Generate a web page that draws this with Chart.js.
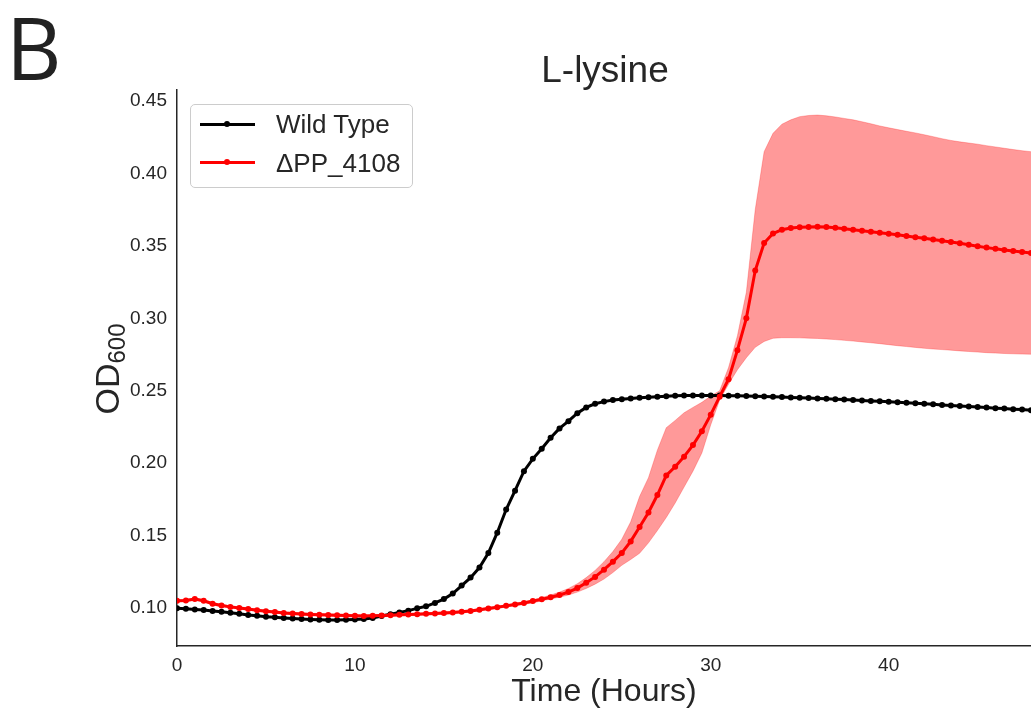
<!DOCTYPE html>
<html>
<head>
<meta charset="utf-8">
<script src="https://cdn.jsdelivr.net/npm/chart.js@4.4.1/dist/chart.umd.min.js"></script>
<style>
  body { margin: 0; background: #fff; }
  #wrap { position: relative; width: 1031px; height: 708px; overflow: hidden; font-family: "Liberation Sans", Arial, sans-serif; color: #262626; }
  #chart { position: absolute; left: 0; top: 0; }
  .abs { position: absolute; white-space: nowrap; line-height: 1; }
  #panel { left: 6px; top: 4px; font-family: "Open Sans", sans-serif; font-size: 86px; color: #222; }
  #title { left: 405px; top: 51px; width: 400px; text-align: center; font-size: 37px; }
  #ylab { left: 7px; top: 349px; width: 200px; height: 40px; line-height: 40px; text-align: center; font-size: 34px; transform: rotate(-90deg); }
  #ylab span { font-size: 24px; position: relative; top: 6px; }
  #legendBox { left: 190px; top: 104px; width: 221px; height: 82px; border: 1px solid #ccc; border-radius: 5px; background: rgba(255,255,255,0.85); }
  .lgLine { position: absolute; left: 200px; width: 55px; height: 2.5px; }
  .lgDot { position: absolute; left: 224px; width: 6px; height: 6px; border-radius: 50%; }
  .lgText { font-size: 26px; left: 276px; }
</style>
</head>
<body>
<div id="wrap">
  <canvas id="chart" width="1031" height="708"></canvas>
  <div id="panel" class="abs">B</div>
  <div id="title" class="abs">L-lysine</div>
  <div id="ylab" class="abs">OD<span>600</span></div>
  <div id="legendBox" class="abs"></div>
  <div class="lgLine" style="top:123px;background:#000"></div>
  <div class="lgDot" style="top:121px;background:#000"></div>
  <div class="lgText abs" style="top:111px">Wild Type</div>
  <div class="lgLine" style="top:161px;background:#f00"></div>
  <div class="lgDot" style="top:159px;background:#f00"></div>
  <div class="lgText abs" style="top:150px">ΔPP_4108</div>
</div>
<script>
// time points (hours)
const hours = [
  0, 0.5, 1, 1.5, 2, 2.5, 3, 3.5, 4, 4.5,
  5, 5.5, 6, 6.5, 7, 7.5, 8, 8.5, 9, 9.5,
  10, 10.5, 11, 11.5, 12, 12.5, 13, 13.5, 14, 14.5,
  15, 15.5, 16, 16.5, 17, 17.5, 18, 18.5, 19, 19.5,
  20, 20.5, 21, 21.5, 22, 22.5, 23, 23.5, 24, 24.5,
  25, 25.5, 26, 26.5, 27, 27.5, 28, 28.5, 29, 29.5,
  30, 30.5, 31, 31.5, 32, 32.5, 33, 33.5, 34, 34.5,
  35, 35.5, 36, 36.5, 37, 37.5, 38, 38.5, 39, 39.5,
  40, 40.5, 41, 41.5, 42, 42.5, 43, 43.5, 44, 44.5,
  45, 45.5, 46, 46.5, 47, 47.5, 48
];

// OD600, wild type
const wildType = [
  0.0999, 0.0995, 0.0990, 0.0986, 0.0980, 0.0975, 0.0967, 0.0960, 0.0952, 0.0946,
  0.0940, 0.0936, 0.0932, 0.0928, 0.0924, 0.0921, 0.0919, 0.0918, 0.0918, 0.0919,
  0.0921, 0.0924, 0.0932, 0.0945, 0.0958, 0.0970, 0.0982, 0.0998, 0.1012, 0.1035,
  0.1062, 0.1100, 0.1155, 0.1210, 0.1280, 0.1380, 0.1520, 0.1680, 0.1810, 0.1945,
  0.2030, 0.2100, 0.2175, 0.2240, 0.2290, 0.2345, 0.2385, 0.2410, 0.2425, 0.2436,
  0.2442, 0.2447, 0.2451, 0.2455, 0.2459, 0.2462, 0.2465, 0.2467, 0.2468, 0.2468,
  0.2468, 0.2467, 0.2466, 0.2465, 0.2463, 0.2462, 0.2460, 0.2458, 0.2456, 0.2454,
  0.2452, 0.2450, 0.2447, 0.2445, 0.2442, 0.2440, 0.2436, 0.2433, 0.2430, 0.2427,
  0.2424, 0.2420, 0.2417, 0.2413, 0.2410, 0.2406, 0.2402, 0.2398, 0.2395, 0.2392,
  0.2388, 0.2384, 0.2380, 0.2377, 0.2373, 0.2370, 0.2366
];

// OD600, deletion mutant (mean)
const ppMean = [
  0.1050, 0.1052, 0.1062, 0.1050, 0.1030, 0.1018, 0.1008, 0.1000, 0.0993, 0.0985,
  0.0978, 0.0972, 0.0966, 0.0962, 0.0959, 0.0956, 0.0954, 0.0952, 0.0950, 0.0948,
  0.0946, 0.0945, 0.0946, 0.0948, 0.0950, 0.0953, 0.0955, 0.0957, 0.0960, 0.0962,
  0.0965, 0.0969, 0.0974, 0.0980, 0.0988, 0.0997, 0.1005, 0.1015, 0.1025, 0.1035,
  0.1048, 0.1060, 0.1075, 0.1090, 0.1110, 0.1138, 0.1175, 0.1215, 0.1265, 0.1320,
  0.1380, 0.1460, 0.1560, 0.1660, 0.1780, 0.1915, 0.1975, 0.2045, 0.2125, 0.2220,
  0.2335, 0.2459, 0.2580, 0.2780, 0.3000, 0.3330, 0.3520, 0.3585, 0.3612, 0.3623,
  0.3628, 0.3631, 0.3632, 0.3630, 0.3625, 0.3618, 0.3612, 0.3605, 0.3597, 0.3590,
  0.3584, 0.3577, 0.3568, 0.3560, 0.3552, 0.3544, 0.3535, 0.3527, 0.3518, 0.3508,
  0.3498, 0.3488, 0.3480, 0.3472, 0.3464, 0.3457, 0.3450
];

// shaded spread of the mutant
const ppUpper = [
  0.1058, 0.1060, 0.1070, 0.1058, 0.1038, 0.1026, 0.1016, 0.1008, 0.1001, 0.0993,
  0.0986, 0.0980, 0.0974, 0.0970, 0.0967, 0.0964, 0.0962, 0.0960, 0.0958, 0.0956,
  0.0954, 0.0953, 0.0954, 0.0956, 0.0958, 0.0961, 0.0963, 0.0965, 0.0968, 0.0970,
  0.0973, 0.0977, 0.0982, 0.0988, 0.0996, 0.1005, 0.1013, 0.1023, 0.1034, 0.1044,
  0.1057, 0.1072, 0.1090, 0.1110, 0.1135, 0.1168, 0.1210, 0.1260, 0.1320, 0.1390,
  0.1475, 0.1595, 0.1770, 0.1900, 0.2090, 0.2245, 0.2295, 0.2348, 0.2385, 0.2420,
  0.2463, 0.2500, 0.2660, 0.2880, 0.3180, 0.3750, 0.4150, 0.4277, 0.4340, 0.4370,
  0.4392, 0.4400, 0.4403, 0.4398, 0.4390, 0.4380, 0.4370, 0.4357, 0.4343, 0.4328,
  0.4315, 0.4303, 0.4291, 0.4280, 0.4267, 0.4254, 0.4240, 0.4228, 0.4218, 0.4210,
  0.4202, 0.4192, 0.4183, 0.4174, 0.4165, 0.4157, 0.4150
];

const ppLower = [
  0.1042, 0.1044, 0.1054, 0.1042, 0.1022, 0.1010, 0.1000, 0.0992, 0.0985, 0.0977,
  0.0970, 0.0964, 0.0958, 0.0954, 0.0951, 0.0948, 0.0946, 0.0944, 0.0942, 0.0940,
  0.0938, 0.0937, 0.0938, 0.0940, 0.0942, 0.0945, 0.0947, 0.0949, 0.0952, 0.0954,
  0.0957, 0.0961, 0.0966, 0.0972, 0.0980, 0.0989, 0.0997, 0.1007, 0.1016, 0.1026,
  0.1035, 0.1050, 0.1062, 0.1075, 0.1090, 0.1110, 0.1135, 0.1165, 0.1200, 0.1245,
  0.1295, 0.1335, 0.1378, 0.1450, 0.1535, 0.1625, 0.1725, 0.1835, 0.1945, 0.2070,
  0.2265, 0.2436, 0.2545, 0.2645, 0.2728, 0.2800, 0.2840, 0.2862, 0.2866, 0.2866,
  0.2865, 0.2863, 0.2861, 0.2857, 0.2853, 0.2848, 0.2843, 0.2837, 0.2831, 0.2825,
  0.2818, 0.2811, 0.2805, 0.2799, 0.2793, 0.2788, 0.2784, 0.2780, 0.2775, 0.2771,
  0.2767, 0.2763, 0.2760, 0.2757, 0.2755, 0.2753, 0.2752
];

const xTicks = [0, 10, 20, 30, 40];
const yTicks = [0.10, 0.15, 0.20, 0.25, 0.30, 0.35, 0.40, 0.45];

function pts(arr) {
    return hours.map((h, i) => ({ x: h, y: arr[i] }));
}

const textColor = '#262626';
const fontFamily = '"Liberation Sans", Arial, sans-serif';

new Chart(document.getElementById('chart'), {
    type: 'line',
    data: {
        datasets: [
            {
                label: 'ΔPP_4108',
                data: pts(ppMean),
                borderColor: '#ff0000',
                backgroundColor: '#ff0000',
                borderWidth: 3,
                pointRadius: 3,
                pointBorderWidth: 0,
                tension: 0,
                order: 0
            },
            {
                label: 'Wild Type',
                data: pts(wildType),
                borderColor: '#000000',
                backgroundColor: '#000000',
                borderWidth: 3,
                pointRadius: 3,
                pointBorderWidth: 0,
                tension: 0,
                order: 1
            },
            {
                label: 'upper',
                data: pts(ppUpper),
                borderColor: 'rgba(255, 0, 0, 0.25)',
                backgroundColor: 'rgba(255, 0, 0, 0.4)',
                borderWidth: 1,
                pointRadius: 0,
                fill: '+1',
                tension: 0,
                order: 2
            },
            {
                label: 'lower',
                data: pts(ppLower),
                borderColor: 'rgba(255, 0, 0, 0.25)',
                borderWidth: 1,
                pointRadius: 0,
                fill: false,
                tension: 0,
                order: 3
            }
        ]
    },
    options: {
        responsive: false,
        animation: false,
        devicePixelRatio: 1,
        layout: { autoPadding: false, padding: { top: 90, left: 0, right: 0, bottom: 0 } },
        plugins: {
            legend: { display: false },
            tooltip: { enabled: false },
            title: { display: false }
        },
        scales: {
            x: {
                type: 'linear',
                min: 0,
                max: 48,
                grid: { display: false, drawTicks: false },
                border: { display: true, color: textColor, width: 1.5 },
                afterFit: (s) => { s.height = 62; },
                afterBuildTicks: (s) => { s.ticks = xTicks.map(v => ({ value: v })); },
                ticks: {
                    padding: 8,
                    color: textColor,
                    font: { family: fontFamily, size: 19 },
                    callback: (v) => String(v)
                },
                title: {
                    display: true,
                    text: 'Time (Hours)',
                    color: textColor,
                    font: { family: fontFamily, size: 32, lineHeight: 1 },
                    padding: 0
                }
            },
            y: {
                type: 'linear',
                min: 0.0738,
                max: 0.4576,
                grid: { display: false, drawTicks: false },
                border: { display: true, color: textColor, width: 1.5 },
                afterFit: (s) => { s.width = 177; },
                afterBuildTicks: (s) => { s.ticks = yTicks.map(v => ({ value: v })); },
                ticks: {
                    padding: 10,
                    color: textColor,
                    font: { family: fontFamily, size: 19 },
                    callback: (v) => v.toFixed(2)
                }
            }
        }
    }
});
</script>
</body>
</html>
